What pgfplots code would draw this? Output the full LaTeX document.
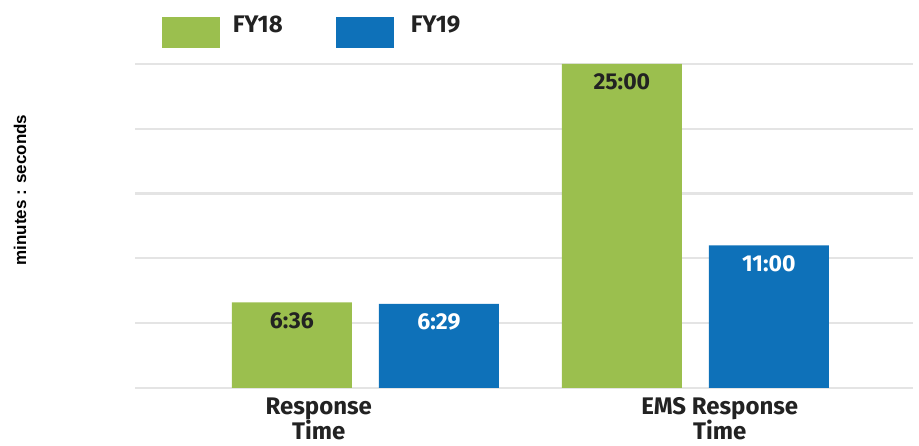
\documentclass[border=0pt]{standalone}
\usepackage{pgfplots}
\pgfplotsset{compat=1.18}
\usepackage{fontspec}
\setmainfont{Fira Sans}
\newfontfamily\arialfont{Liberation Sans}

\definecolor{fygreen}{RGB}{155,191,78}
\definecolor{fyblue}{RGB}{14,113,185}
\definecolor{gridgray}{RGB}{228,228,228}
\definecolor{labeltext}{RGB}{34,34,34}

\begin{document}
\begin{tikzpicture}
\useasboundingbox (-135pt,-58pt) rectangle (784pt,388pt);
\begin{axis}[
  scale only axis,
  x=330pt, y=12.96pt,
  xmin=-0.698, xmax=1.659,
  ymin=0, ymax=30,
  axis lines=none,
  clip=false,
  xtick=\empty, ytick=\empty,
  bar width=120pt,
  legend style={draw=none, fill=none, inner sep=0pt, outer sep=0pt,
    at={(0.0344,0.962)}, anchor=north west,
    legend columns=2, column sep=0pt,
    font=\bfseries\fontsize{24}{26}\selectfont, text=labeltext,
    /tikz/every even column/.style={column sep=51pt}},
  legend cell align=left,
]
% horizontal grid every five minutes
\pgfplotsinvokeforeach{0,5,...,30}{
  \draw[gridgray, line width=2.2pt] (axis cs:-0.698,#1) -- (axis cs:1.659,#1);
}
% FY18 bars
\addplot[ybar, bar shift=-73.5pt, fill=fygreen, draw=none,
  legend image code/.code={\fill[fygreen] (0pt,-23pt) rectangle (58pt,8pt); \path (69pt,0pt);},
  nodes near coords={\fontsize{23}{25}\selectfont\bfseries\pgfplotspointmeta},
  point meta=explicit symbolic,
  every node near coord/.append style={anchor=base, xshift=-73.5pt, yshift=-26pt, text=labeltext, inner sep=0pt}]
  coordinates {(0,6.6) [6:36] (1,25) [25:00]};
\addlegendentry{FY18}
% FY19 bars
\addplot[ybar, bar shift=73.5pt, fill=fyblue, draw=none,
  legend image code/.code={\fill[fyblue] (0pt,-23pt) rectangle (58pt,8pt); \path (73pt,0pt);},
  nodes near coords={\fontsize{23}{25}\selectfont\bfseries\pgfplotspointmeta},
  point meta=explicit symbolic,
  every node near coord/.append style={anchor=base, xshift=73.5pt, yshift=-26pt, text=white, inner sep=0pt}]
  coordinates {(0,6.4833) [6:29] (1,11) [11:00]};
\addlegendentry{FY19}
% category labels
\node[align=center, font=\bfseries\fontsize{24}{24}\selectfont, text=labeltext, anchor=base, inner sep=0pt]
  at ([yshift=-52pt]axis cs:-0.141,0) {Response\\Time};
\node[align=center, font=\bfseries\fontsize{24}{24}\selectfont, text=labeltext, anchor=base, inner sep=0pt]
  at ([yshift=-52pt]axis cs:1.074,0) {EMS Response\\Time};
% axis title
\node[font=\arialfont\bfseries\fontsize{17}{19}\selectfont, text=black, rotate=90]
  at ([xshift=-115pt, yshift=198pt]axis cs:-0.698,0) {minutes : seconds};
\end{axis}
\end{tikzpicture}
\end{document}
